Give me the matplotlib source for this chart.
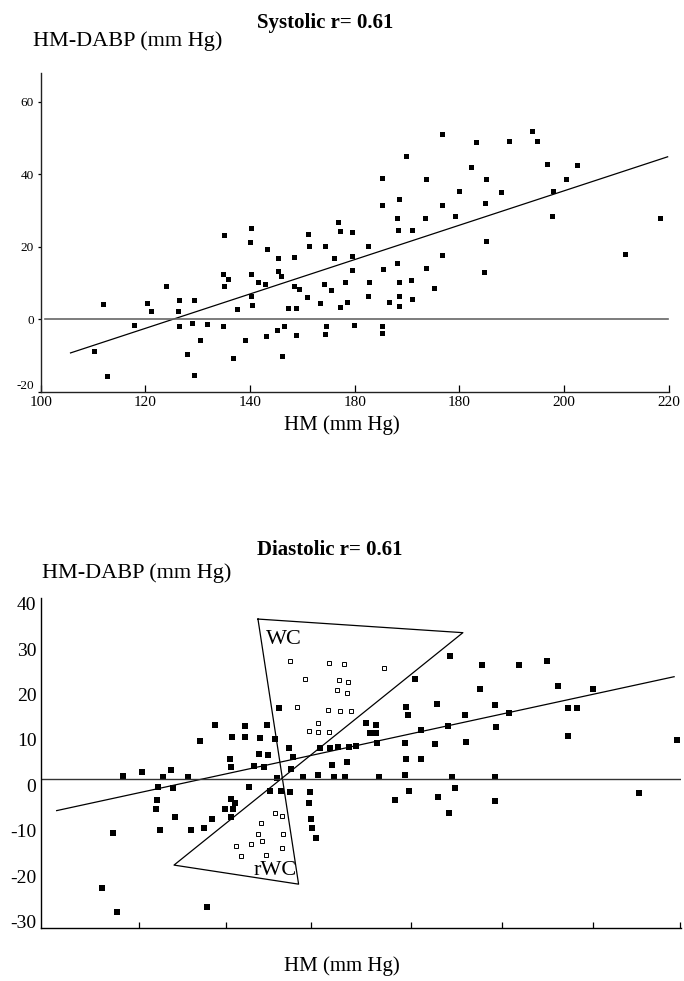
import matplotlib
matplotlib.use("Agg")
import matplotlib.pyplot as plt
import matplotlib.transforms as mtransforms

plt.rcParams.update({"font.family": "Liberation Serif", "axes.linewidth": 1.0,
                     "axes.unicode_minus": False})

# ---------------------------------------------------------------- systolic
sys_x = [112.0, 120.4, 121.1, 123.9, 126.4, 126.2, 129.2, 117.8, 126.4, 129.0,
         131.8, 134.8, 130.4, 128.0, 110.1, 112.7, 129.2, 135.0, 134.8, 135.8,
         135.0, 140.1, 139.9, 143.2, 140.1, 141.5, 142.9, 140.2, 140.4, 137.5,
         145.4, 145.4, 146.0, 148.4, 148.4, 149.3, 147.3, 148.8, 151.1, 151.2,
         150.9, 153.4, 154.3, 154.1, 155.5, 156.9, 157.1, 156.1, 158.2, 157.1,
         158.6, 159.5, 159.5, 159.5, 162.6, 162.8, 162.5, 165.2, 165.3, 165.4,
         166.6, 168.4, 168.1, 168.3, 168.1, 168.4, 168.4, 168.4, 169.9, 170.9,
         170.8, 171.0, 173.6, 173.4, 173.6, 175.2, 176.7, 176.6, 176.6, 139.0,
         136.7, 143.1, 145.1, 146.4, 146.1, 148.8, 154.5, 154.3, 159.8, 165.3,
         165.3, 183.1, 182.2, 185.0, 179.9, 184.9, 179.2, 189.4, 187.9, 185.0,
         184.7, 193.8, 194.9, 196.8, 202.4, 200.4, 197.8, 197.7, 211.6, 218.4]
sys_y = [4.1, 4.5, 2.3, 9.1, 5.2, 2.3, 5.4, -1.6, -1.8, -1.0,
         -1.2, -1.8, -5.8, -9.5, -8.7, -15.7, -15.3, 23.2, 12.5, 11.1,
         9.2, 25.2, 21.2, 19.4, 12.5, 10.3, 9.7, 6.3, 3.9, 2.8,
         16.8, 13.2, 12.0, 17.1, 9.1, 8.3, 3.0, 3.2, 23.4, 20.2,
         6.1, 4.5, 20.2, 9.6, 8.1, 26.8, 24.3, 16.9, 10.2, 3.4,
         4.8, 24.1, 17.3, 13.6, 20.2, 10.2, 6.5, 38.9, 31.6, 13.8,
         4.8, 33.1, 27.9, 24.5, 15.5, 10.2, 6.5, 3.6, 45.0, 24.6,
         10.7, 5.6, 38.6, 27.9, 14.2, 8.5, 51.0, 31.6, 17.7, -5.8,
         -10.7, -4.5, -3.0, -1.8, -10.2, -4.3, -1.9, -4.1, -1.6, -1.8,
         -3.8, 49.0, 41.9, 38.8, 35.3, 32.0, 28.5, 49.2, 35.1, 21.5,
         12.9, 51.8, 49.2, 42.8, 42.4, 38.6, 35.3, 28.5, 17.9, 27.9]
sys_fit_x = [105.7, 219.8]
sys_fit_y = [-9.3, 44.8]
sys_ticks = [100, 120, 140, 160, 180, 200, 220]
sys_ticklabels = ["100", "120", "140", "180", "180", "200", "220"]

# ---------------------------------------------------------------- diastolic
dia_x = [58.3, 60.3, 62.7, 63.6, 65.4, 66.8, 68.4, 62.1, 62.0, 61.9,
         63.8, 64.0, 62.3, 65.8, 67.2, 68.1, 69.5, 57.1, 55.9, 57.6,
         67.5, 75.5, 74.2, 71.8, 71.8, 70.3, 73.4, 75.1, 76.6, 77.1,
         73.3, 74.3, 70.1, 70.2, 72.8, 73.9, 76.9, 75.3, 72.2, 74.5,
         75.7, 76.7, 70.2, 70.7, 70.4, 70.2, 79.0, 78.8, 79.1, 79.2,
         79.6, 78.2, 79.9, 81.6, 82.8, 80.1, 81.2, 82.1, 83.3, 84.1,
         81.4, 83.1, 85.2, 86.3, 85.6, 86.3, 86.4, 86.6, 90.6, 89.6,
         89.8, 93.0, 91.3, 89.5, 92.8, 89.6, 91.3, 89.5, 89.9, 88.4,
         93.1, 94.5, 94.3, 94.4, 98.0, 102.1, 105.2, 97.8, 106.4, 110.3,
         99.5, 96.1, 101.0, 107.6, 108.5, 99.6, 96.2, 107.5, 119.6, 94.7,
         99.5, 95.0, 99.5, 115.4]
dia_y = [0.7, 1.5, 0.4, 2.1, 0.4, 8.4, 11.9, -1.8, -4.6, -6.5,
         -2.0, -8.4, -11.2, -11.2, -10.7, -8.8, -6.6, -11.8, -24.0, -29.3,
         -28.2, 15.6, 11.9, 11.7, 9.4, 9.3, 9.0, 8.8, 6.8, 5.0,
         5.5, 5.3, 4.4, 2.6, 2.9, 2.6, 2.3, 0.2, -1.7, -2.5,
         -2.6, -2.8, -4.4, -5.3, -6.5, -8.4, -2.8, -5.2, -8.7, -10.8,
         -13.0, 0.4, 0.9, 0.6, 0.4, 6.8, 6.8, 7.2, 7.2, 7.3,
         3.2, 3.8, 12.3, 12.0, 10.1, 10.1, 8.1, 0.6, 22.2, 16.0,
         14.1, 16.5, 10.8, 7.9, 7.8, 4.5, 4.4, 0.9, -2.5, -4.6,
         -4.0, 27.2, 11.8, -7.4, 25.1, 25.2, 26.1, 20.0, 20.6, 20.0,
         16.3, 14.1, 14.6, 15.6, 15.6, 11.6, 8.2, 9.6, 8.7, 0.4,
         0.6, -2.0, -4.7, -3.0]
# white-coat (WC) and reverse white-coat (rWC) subjects
wc_x = [76.7, 81.1, 82.7, 87.2, 78.4, 82.2, 83.2, 82.0, 83.1, 77.5,
        81.0, 82.3, 83.5, 79.9, 78.8, 79.9, 81.1]
wc_y = [26.1, 25.6, 25.5, 24.6, 22.2, 21.9, 21.5, 19.7, 19.0, 16.0,
        15.3, 15.0, 15.0, 12.4, 10.6, 10.4, 10.4]
rwc_x = [75.1, 75.9, 73.5, 73.2, 76.0, 73.7, 72.4, 70.8, 75.9, 71.3, 74.1]
rwc_y = [-7.4, -8.0, -9.6, -12.1, -12.1, -13.5, -14.2, -14.6, -15.1, -16.8, -16.7]
dia_fit_x = [50.9, 119.3]
dia_fit_y = [-6.9, 22.6]
bowtie_x = [73.2, 95.9, 63.9, 77.7, 73.2]
bowtie_y = [35.3, 32.3, -18.9, -23.1, 35.3]
dia_xticks = [60, 69.7, 79.1, 90.1, 100.2, 110.3, 120]
dia_yticks = [-30, -20, -10, 0, 10, 20, 30, 40]

fig = plt.figure(figsize=(6.84, 9.81), dpi=100)

# ---------------------------------------------------------------- top panel
ax1 = fig.add_axes([0.0595, 0.6007, 0.9181, 0.3252])
ax1.plot(sys_x, sys_y, "s", color="black", ms=3.6, mew=0)
ax1.plot(sys_fit_x, sys_fit_y, color="black", lw=0.9)
ax1.plot([100.8, 219.8], [0, 0], color="#666666", lw=1.2)
ax1.set_xlim(100, 220)
ax1.set_ylim(-20, 68)
ax1.set_xticks(sys_ticks)
ax1.set_xticklabels(sys_ticklabels, fontsize=11)
ax1.set_xticks([220], minor=True)
ax1.set_yticks([-20, 0, 20, 40, 60])
ax1.tick_params(axis="x", direction="in", length=5, width=0.9, pad=3)
ax1.tick_params(axis="x", which="minor", direction="in", length=9, width=1.1)
ax1.tick_params(axis="y", direction="out", length=2, width=0.9, pad=3,
                labelsize=9.5)
# lowest label is kept clear of the x axis
ax1.get_yticklabels()[0].set_verticalalignment("bottom")
for s in ("top", "right"):
    ax1.spines[s].set_visible(False)
ax1.spines["left"].set_color("#222222")
ax1.spines["bottom"].set_color("#222222")

# ---------------------------------------------------------------- bottom panel
ax2 = fig.add_axes([0.0604, 0.0543, 0.9357, 0.3364])
ax2.plot(dia_x, dia_y, "s", color="black", ms=4.0, mew=0)
ax2.plot(wc_x, wc_y, "s", mfc="white", mec="black", ms=3.0, mew=0.7)
ax2.plot(rwc_x, rwc_y, "s", mfc="white", mec="black", ms=3.2, mew=0.7)
ax2.plot(dia_fit_x, dia_fit_y, color="black", lw=0.9)
ax2.plot(bowtie_x, bowtie_y, color="black", lw=0.9)
ax2.axhline(0, color="#333333", lw=1.0)
ax2.text(76.1, 30.8, "WC", fontsize=16, ha="center", va="center")
ax2.text(75.1, -20.1, "rWC", fontsize=16, ha="center", va="center")
ax2.set_xlim(49.2, 120.1)
ax2.set_ylim(-32.7, 40)
ax2.set_xticks(dia_xticks)
ax2.set_xticklabels([])
ax2.set_yticks(dia_yticks)
ax2.tick_params(axis="x", direction="in", length=4.5, width=0.9)
ax2.tick_params(axis="y", length=0, pad=3.5, labelsize=14)
# tick labels sit a little below their gridline values
shift = mtransforms.ScaledTranslation(0, -6 / 100, fig.dpi_scale_trans)
for lab in ax2.get_yticklabels():
    lab.set_transform(lab.get_transform() + shift)
for s in ("top", "right"):
    ax2.spines[s].set_visible(False)

# ---------------------------------------------------------------- titles
fig.text(0.475, 0.9766, "Systolic r= 0.61", fontsize=15, fontweight="bold",
         ha="center", va="center")
fig.text(0.048, 0.958, "HM-DABP (mm Hg)", fontsize=16, ha="left", va="center")
fig.text(0.5, 0.567, "HM (mm Hg)", fontsize=15, ha="center", va="center")
fig.text(0.4825, 0.4393, "Diastolic r= 0.61", fontsize=15, fontweight="bold",
         ha="center", va="center")
fig.text(0.0614, 0.4159, "HM-DABP (mm Hg)", fontsize=16, ha="left", va="center")
fig.text(0.5, 0.0153, "HM (mm Hg)", fontsize=15, ha="center", va="center")

fig.savefig("out.png", dpi=100)
